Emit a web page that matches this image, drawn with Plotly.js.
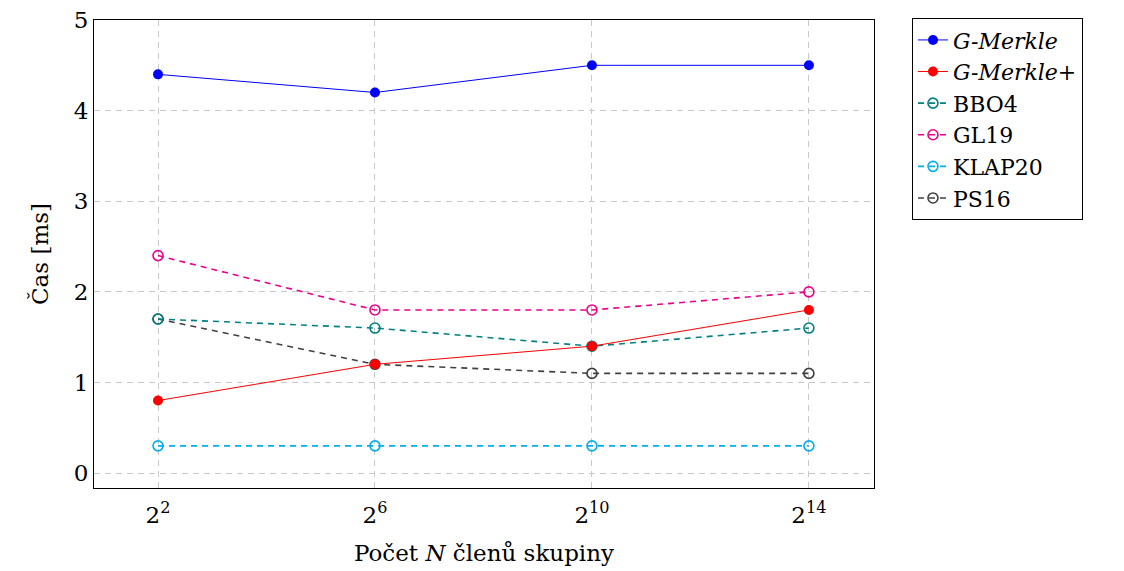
<!DOCTYPE html>
<html><head><meta charset="utf-8">
<script src="https://cdn.plot.ly/plotly-3.0.1.min.js"></script>
<style>body{margin:0;background:#fff}#c{width:1124px;height:571px}</style>
</head><body><div id="c"></div>
<script>
const categories = ["2<sup>2</sup>", "2<sup>6</sup>", "2<sup>10</sup>", "2<sup>14</sup>"];
const gMerkle = [4.4, 4.2, 4.5, 4.5];
const gMerklePlus = [0.8, 1.2, 1.4, 1.8];
const bbo4 = [1.7, 1.6, 1.4, 1.6];
const gl19 = [2.4, 1.8, 1.8, 2.0];
const klap20 = [0.3, 0.3, 0.3, 0.3];
const ps16 = [1.7, 1.2, 1.1, 1.1];
const names = ["<i>G-Merkle</i>", "<i>G-Merkle</i>+", "BBO4", "GL19", "KLAP20", "PS16"];

const xs = [0, 1, 2, 3];
function dashed(y, name, color, rank) {
  return {x: xs, y: y, name: name, type: 'scatter', mode: 'lines+markers', legendrank: rank,
    line: {color: color, width: 1.6, dash: '6px,5px'},
    marker: {symbol: 'circle-open', size: 10, color: color, line: {width: 1.6, color: color}}};
}
function solid(y, name, color, rank) {
  return {x: xs, y: y, name: name, type: 'scatter', mode: 'lines+markers', legendrank: rank,
    line: {color: color, width: 1}, marker: {symbol: 'circle', size: 10, color: color}};
}
const data = [
  dashed(klap20, names[4], '#00aeef', 5),
  dashed(ps16, names[5], '#404040', 6),
  dashed(gl19, names[3], '#ec008c', 4),
  dashed(bbo4, names[2], '#008080', 3),
  solid(gMerkle, names[0], '#0000ff', 1),
  solid(gMerklePlus, names[1], '#ff0000', 2)
];
const fam = "DejaVu Serif";
const f = (s) => ({family: fam, size: s, color: '#000'});
const layout = {
  width: 1124, height: 571,
  margin: {l: 94, r: 250, t: 20, b: 83},
  paper_bgcolor: '#fff', plot_bgcolor: '#fff',
  font: f(20),
  showlegend: true,
  legend: {x: 1.0487, y: 1.004, xanchor: 'left', yanchor: 'top', bordercolor: '#000', borderwidth: 1,
    font: f(22), tracegroupgap: 0, bgcolor: '#fff'},
  xaxis: {range: [-0.295, 3.3], tickvals: xs, ticktext: categories, showline: true, mirror: true,
    linecolor: '#000', linewidth: 1, zeroline: false, showgrid: true, gridcolor: '#c8c8c8',
    griddash: '6px,5px', gridwidth: 1, ticks: 'outside', ticklen: 6, tickcolor: 'rgba(0,0,0,0)', tickfont: f(23),
    title: {text: 'Počet <i>N</i> členů skupiny', font: f(23), standoff: 18}},
  yaxis: {range: [-0.165, 5], tickvals: [0, 1, 2, 3, 4, 5], showline: true, mirror: true,
    linecolor: '#000', linewidth: 1, zeroline: false, showgrid: true, gridcolor: '#c8c8c8',
    griddash: '6px,5px', gridwidth: 1, ticks: '', tickfont: f(23),
    title: {text: 'Čas [ms]', font: f(23), standoff: 18}}
};
Plotly.newPlot('c', data, layout, {displayModeBar: false, staticPlot: true});
</script></body></html>
